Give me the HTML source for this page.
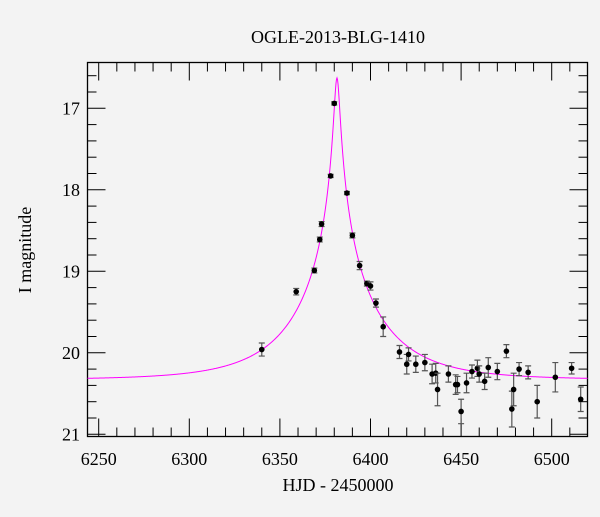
<!DOCTYPE html>
<html><head><meta charset="utf-8"><style>
body{margin:0;background:#f3f3f3;}
svg text{font-family:"Liberation Serif",serif;fill:#000;}
</style></head><body>
<svg id="chart" width="600" height="512" xmlns="http://www.w3.org/2000/svg">
<rect width="600" height="512" fill="#f3f3f3"/>
<text x="338" y="43" font-size="18" text-anchor="middle">OGLE-2013-BLG-1410</text>
<text x="338" y="491" font-size="18" text-anchor="middle">HJD - 2450000</text>
<text x="0" y="0" font-size="18" text-anchor="middle" transform="translate(31,250) rotate(-90)">I magnitude</text>
<g id="plot"></g>
</svg>
<script>
const times=[6340,6359,6369,6372,6373,6378,6380,6387,6390,6394,6398,6400,6403,6407,6416,6420,6421,6425,6430,6434,6436,6437,6443,6447,6448,6450,6453,6456,6459,6460,6463,6465,6470,6475,6478,6479,6482,6487,6492,6502,6511,6516];
const mags=[19.96,19.25,18.99,18.61,18.42,17.83,16.94,18.04,18.56,18.93,19.15,19.18,19.39,19.68,19.99,20.14,20.02,20.14,20.12,20.26,20.25,20.45,20.26,20.39,20.39,20.72,20.37,20.23,20.19,20.26,20.35,20.18,20.23,19.98,20.69,20.45,20.20,20.24,20.60,20.30,20.19,20.57];
const errs=[0.08,0.04,0.03,0.03,0.03,0.02,0.02,0.02,0.03,0.05,0.03,0.05,0.05,0.12,0.08,0.12,0.08,0.10,0.10,0.12,0.12,0.20,0.10,0.12,0.10,0.15,0.12,0.08,0.10,0.10,0.10,0.12,0.10,0.08,0.22,0.20,0.08,0.08,0.20,0.18,0.07,0.15];
const modelParams=[6381.5,0.033,45,20.33]; // t0, u0, tE, baseline
const xTicks=[6250,6300,6350,6400,6450,6500];
const yTicks=[17,18,19,20,21];
const NS="http://www.w3.org/2000/svg";
const L=87.5,R=587.5,T=62.5,B=436.5;
const X=v=>98.7+(v-6250)*1.812;
const Y=m=>108.3+(m-17)*81.5;
const g=document.getElementById('plot');
function mk(tag,attrs){const e=document.createElementNS(NS,tag);for(const k in attrs)e.setAttribute(k,attrs[k]);g.appendChild(e);return e;}
// frame
let fr=mk('rect',{x:L,y:T,width:R-L,height:B-T,fill:'none',stroke:'#000','stroke-width':1.3});


// x ticks
for(let v=6240;v<=6520;v+=10){const x=X(v);if(x<L||x>R)continue;const maj=v%50===0;const len=maj?18:9;
 let t1=mk('line',{x1:x,x2:x,y1:B,y2:B-len,stroke:'#000','stroke-width':1});
 
 
 let t2=mk('line',{x1:x,x2:x,y1:T,y2:T+len,stroke:'#000','stroke-width':1});
 
 }
xTicks.forEach(v=>{let t=mk('text',{x:X(v),y:465,'font-size':18,'text-anchor':'middle'});t.textContent=v;
 
 });
// y ticks
for(let i=0;i<=25;i++){const m=16.4+i*0.2;const y=Y(m);if(y<T||y>B)continue;const maj=Math.abs(m-Math.round(m))<1e-6;const len=maj?18:9;
 let t1=mk('line',{x1:L,x2:L+len,y1:y,y2:y,stroke:'#000','stroke-width':1});
 
 
 let t2=mk('line',{x1:R,x2:R-len,y1:y,y2:y,stroke:'#000','stroke-width':1});
 
 }
yTicks.forEach(m=>{let t=mk('text',{x:80,y:Y(m)+6,'font-size':18,'text-anchor':'end'});t.textContent=m;
 
 });
// model curve
const [t0,u0,tE,base]=modelParams;
let d='';
for(let px=L;px<=R;px+=0.5){const t=6250+(px-98.7)/1.812;const tau=(t-t0)/tE;const u=Math.sqrt(u0*u0+tau*tau);
 const A=(u*u+2)/(u*Math.sqrt(u*u+4));const m=base-2.5*Math.log10(A);d+=(d?'L':'M')+px.toFixed(1)+','+Math.max(Y(m),T).toFixed(2);}
let c=mk('path',{d:d,fill:'none',stroke:'#ff00ff','stroke-width':1});


// data points
times.forEach((t,i)=>{const x=X(t),y=Y(mags[i]),e=errs[i]*81.5;
 let eb=mk('path',{d:`M${x},${y-e}V${y+e}M${x-3},${y-e}H${x+3}M${x-3},${y+e}H${x+3}`,stroke:'#555','stroke-width':1.2,fill:'none'});
 
 
 let p=mk('circle',{cx:x,cy:y,r:2.8,fill:'#000'});
 
 });
</script>
</body></html>
